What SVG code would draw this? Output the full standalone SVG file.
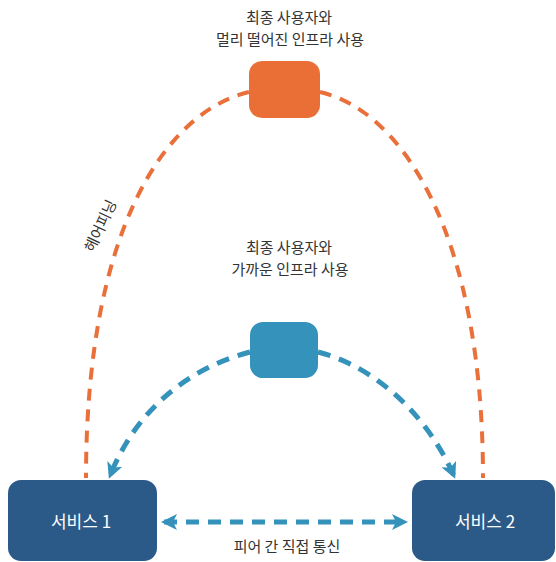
<svg xmlns="http://www.w3.org/2000/svg" width="556" height="562" viewBox="0 0 556 562">
<defs>
<style>
.lbl{font-family:"Noto Sans CJK KR","Noto Sans",sans-serif;font-size:15px;fill:#333;text-anchor:middle}
.svc{font-family:"Noto Sans CJK KR","Noto Sans",sans-serif;font-size:17px;fill:#fff;text-anchor:middle}
.or{fill:none;stroke:#E9703A;stroke-width:4;stroke-dasharray:12 9}
.bl{fill:none;stroke:#3592BA;stroke-width:5;stroke-dasharray:13 9}
</style>
<marker id="ah" viewBox="0 0 16 16" refX="13" refY="8" markerWidth="16" markerHeight="16" markerUnits="userSpaceOnUse" orient="auto-start-reverse">
<path d="M0,0 L16,8 L0,16 L4,8 z" fill="#3592BA"/>
</marker>
</defs>
<g id="connectors">
<path class="or" d="M249,92 C165,112 86,230 86,478"/>
<path class="or" d="M320,92 C400,110 483,230 483,478"/>
<path class="bl" d="M250,352 C200,365 140,400 110,476" marker-end="url(#ah)"/>
<path class="bl" d="M318,352 C370,365 425,410 454,476" marker-end="url(#ah)"/>
<line class="bl" x1="164" y1="522" x2="405" y2="522" marker-start="url(#ah)" marker-end="url(#ah)"/>
<text class="lbl" transform="translate(101,226) rotate(-65)" y="5">헤어피닝</text>
<text class="lbl" font-size="16" x="287" y="552">피어 간 직접 통신</text>
</g>
<g id="far">
<rect x="249" y="61" width="71" height="57" rx="13" fill="#EA6F37"/>
<text class="lbl" x="289" y="23">최종 사용자와</text>
<text class="lbl" x="290" y="45">멀리 떨어진 인프라 사용</text>
</g>
<g id="near">
<rect x="250" y="322" width="68" height="56" rx="13" fill="#3592BA"/>
<text class="lbl" x="289" y="253">최종 사용자와</text>
<text class="lbl" x="290" y="275">가까운 인프라 사용</text>
</g>
<g id="svc1">
<rect x="8" y="480" width="149" height="81" rx="13" fill="#2C5A88"/>
<text class="svc" x="81" y="528">서비스 1</text>
</g>
<g id="svc2">
<rect x="412" y="480" width="143" height="81" rx="13" fill="#2C5A88"/>
<text class="svc" x="485" y="528">서비스 2</text>
</g>
</svg>
